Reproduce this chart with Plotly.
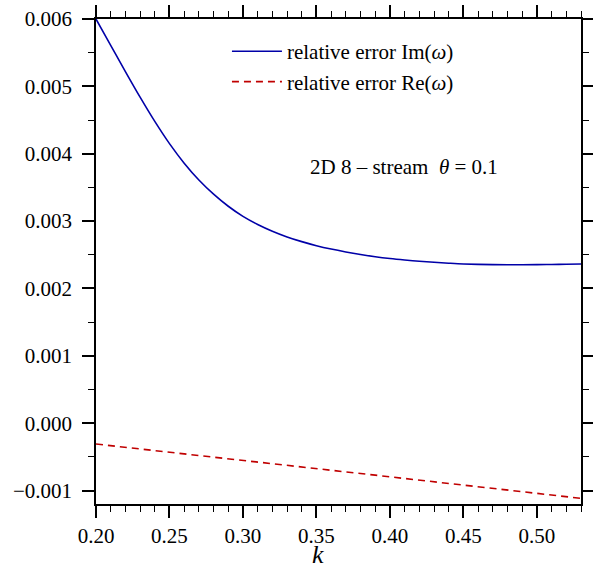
import plotly.graph_objects as go

k = [0.20, 0.21, 0.22, 0.23, 0.24, 0.25, 0.26, 0.27, 0.28, 0.29, 0.30,
     0.31, 0.32, 0.33, 0.34, 0.35, 0.36, 0.37, 0.38, 0.39, 0.40, 0.41,
     0.42, 0.43, 0.44, 0.45, 0.46, 0.47, 0.48, 0.49, 0.50, 0.51, 0.52, 0.53]

err_im = [0.006000, 0.005610, 0.005220, 0.004840, 0.004480, 0.004150,
          0.003860, 0.003610, 0.003400, 0.003220, 0.003070, 0.002950,
          0.002850, 0.002765, 0.002695, 0.002635, 0.002585, 0.002542,
          0.002504, 0.002471, 0.002444, 0.002422, 0.002403, 0.002388,
          0.002375, 0.002364, 0.002357, 0.002353, 0.002351, 0.002351,
          0.002353, 0.002356, 0.002359, 0.002363]

err_re = [-0.000310, -0.000335, -0.000360, -0.000384, -0.000408, -0.000432,
          -0.000456, -0.000480, -0.000504, -0.000528, -0.000553, -0.000578,
          -0.000603, -0.000628, -0.000652, -0.000676, -0.000700, -0.000724,
          -0.000748, -0.000772, -0.000797, -0.000822, -0.000847, -0.000872,
          -0.000896, -0.000920, -0.000945, -0.000970, -0.000995, -0.001020,
          -0.001044, -0.001068, -0.001092, -0.001116]

x_ticks = [0.20, 0.25, 0.30, 0.35, 0.40, 0.45, 0.50]
x_labels = ["0.20", "0.25", "0.30", "0.35", "0.40", "0.45", "0.50"]
y_ticks = [-0.001, 0.000, 0.001, 0.002, 0.003, 0.004, 0.005, 0.006]
y_labels = ["\u22120.001", "0.000", "0.001", "0.002", "0.003", "0.004", "0.005", "0.006"]

FONT = "Liberation Serif"

fig = go.Figure()
fig.add_trace(go.Scatter(x=k, y=err_im, mode="lines", line_shape="spline",
                         name="relative error Im(<i>\u03c9</i>)",
                         line=dict(color="#0000a8", width=1.6)))
fig.add_trace(go.Scatter(x=k, y=err_re, mode="lines",
                         name="relative error Re(<i>\u03c9</i>)",
                         line=dict(color="#c00000", width=1.6, dash="7px,5px")))

axis_common = dict(
    showline=True, linecolor="black", linewidth=1.6, mirror="allticks",
    ticks="outside", ticklen=12, tickwidth=1.6, tickcolor="black",
    showgrid=False, zeroline=False, automargin=False,
    tickfont=dict(family=FONT, size=21, color="black"),
)

fig.update_xaxes(range=[0.2, 0.53], tickvals=x_ticks, ticktext=x_labels,
                 minor=dict(dtick=0.01, ticklen=6, tickwidth=1.4, tickcolor="black", ticks="outside"),
                 **axis_common)
fig.update_yaxes(range=[-0.0012, 0.006], tickvals=y_ticks, ticktext=y_labels,
                 ticklabelstandoff=6,
                 minor=dict(dtick=0.0005, tick0=0, ticklen=6, tickwidth=1.4, tickcolor="black", ticks="outside"),
                 **axis_common)

fig.add_annotation(x=0.3444, y=0.0038, xref="x", yref="y",
                   text="2D 8 \u2013 stream  <i>\u03b8</i> = 0.1",
                   showarrow=False, xanchor="left",
                   font=dict(family=FONT, size=21, color="black"))
fig.add_annotation(x=0.458, y=-0.1299, xref="paper", yref="paper",
                   text="<i>k</i>", showarrow=False, yanchor="bottom", borderpad=0,
                   height=24, width=20,
                   font=dict(family=FONT, size=26, color="black"))

fig.update_layout(
    width=593, height=567,
    margin=dict(l=96, r=12, t=19, b=63, autoexpand=False),
    plot_bgcolor="white", paper_bgcolor="white",
    showlegend=True,
    legend=dict(x=0.27, y=0.975, xanchor="left", yanchor="top",
                bgcolor="rgba(0,0,0,0)", font=dict(family=FONT, size=21, color="black"),
                tracegroupgap=0, itemwidth=50),
)

fig.write_html("out.html")
